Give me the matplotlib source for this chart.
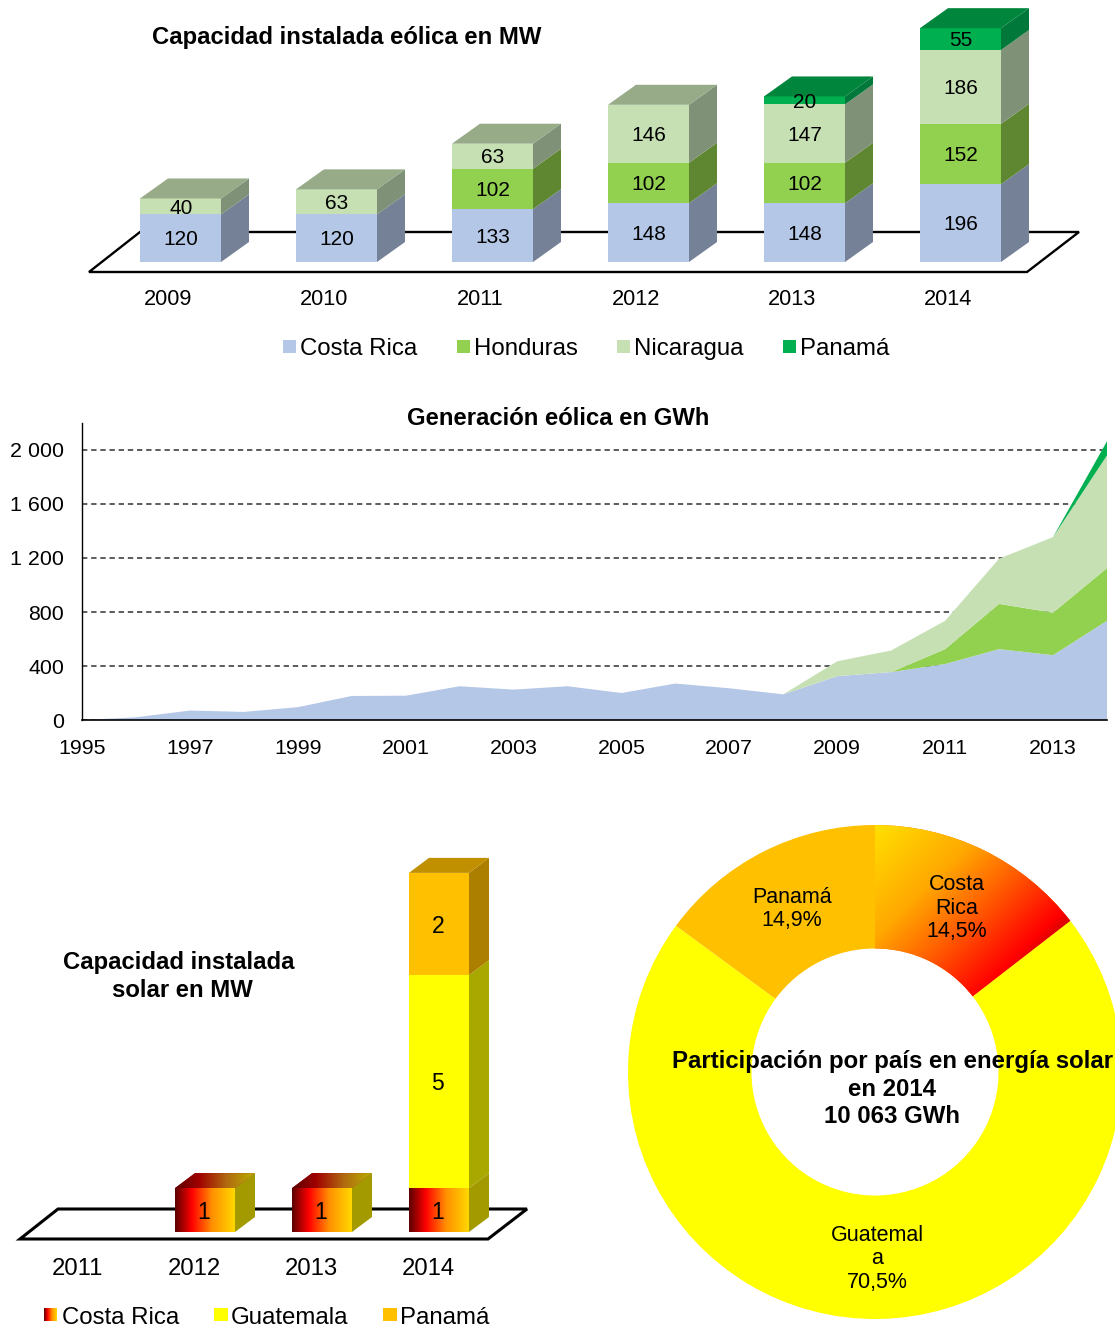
#-*- coding:utf-8 -*-

import numpy as np
import matplotlib
matplotlib.use('Agg')
import matplotlib.pyplot as plt
from matplotlib.colors import LinearSegmentedColormap, to_rgb
from matplotlib.patches import Polygon, Rectangle

W, H = 1115, 1330

# capacidad eolica MW
wind_years = ['2009', '2010', '2011', '2012', '2013', '2014']
wind_costa_rica = [120, 120, 133, 148, 148, 196]
wind_honduras = [0, 0, 102, 102, 102, 152]
wind_nicaragua = [40, 63, 63, 146, 147, 186]
wind_panama = [0, 0, 0, 0, 20, 55]

# generacion eolica GWh
gen_years = list(range(1995, 2015))
gen_costa_rica = [0, 20, 70, 60, 95, 178, 180, 250, 225, 250, 200, 270, 235, 190, 325, 355, 415, 525, 480, 735]
gen_honduras = [0, 0, 0, 0, 0, 0, 0, 0, 0, 0, 0, 0, 0, 0, 0, 0, 110, 335, 315, 390]
gen_nicaragua = [0, 0, 0, 0, 0, 0, 0, 0, 0, 0, 0, 0, 0, 0, 110, 160, 210, 335, 560, 835]
gen_panama = [0, 0, 0, 0, 0, 0, 0, 0, 0, 0, 0, 0, 0, 0, 0, 0, 0, 0, 0, 105]

# capacidad solar MW
solar_years = ['2011', '2012', '2013', '2014']
solar_costa_rica = [0, 1.03, 1.03, 1.03]
solar_guatemala = [0, 0, 0, 5]
solar_panama = [0, 0, 0, 2.4]

# participacion solar 2014
share_names = ['Costa\nRica', 'Guatemal\na', 'Panamá']
share_values = [14.5, 70.5, 14.9]

plt.rcParams['font.family'] = ['Liberation Sans', 'DejaVu Sans']

fig = plt.figure(figsize=(W / 100, H / 100), dpi=100)


def px_axes(x0, y0, x1, y1):
    ax = fig.add_axes([x0 / W, 1 - y1 / H, (x1 - x0) / W, (y1 - y0) / H])
    ax.patch.set_alpha(0)
    return ax


def box_faces(ax, x, bottom, height, width, dx, dy, side, top=None):
    r = x + width / 2
    ax.add_patch(Polygon([(r, bottom), (r + dx, bottom + dy), (r + dx, bottom + height + dy), (r, bottom + height)],
                         facecolor=side, edgecolor='none', zorder=3))
    if top is not None:
        l = x - width / 2
        y = bottom + height
        ax.add_patch(Polygon([(l, y), (l + dx, y + dy), (r + dx, y + dy), (r, y)],
                             facecolor=top, edgecolor='none', zorder=3))


def draw_floor(ax, pts, lw):
    ax.add_patch(Polygon(pts, closed=True, fill=False, edgecolor='black', linewidth=lw, joinstyle='miter', zorder=1))


def share_label(i):
    return '%s\n%s%%' % (share_names[i], str(share_values[i]).replace('.', ','))


# ---- barras eolicas ----
ax1 = px_axes(0, 0, W, 300)
sx, sy = 156.0, 0.397
ax1.set_xlim(-180.5 / sx, (W - 180.5) / sx)
ax1.set_ylim(-38 / sy, 262 / sy)
ax1.axis('off')
dx1, dy1 = 28 / sx, 20 / sy
bw1 = 81 / sx
draw_floor(ax1, [(-91.5 / sx, -10 / sy), (846.5 / sx, -10 / sy), (898.5 / sx, 30 / sy), (-40.5 / sx, 30 / sy)], 1.7)

wind_series = [wind_costa_rica, wind_honduras, wind_nicaragua, wind_panama]
wind_front = ['#B4C7E7', '#92D050', '#C6E0B4', '#00B050']
wind_side = ['#748197', '#5F8732', '#7F9278', '#00783A']
wind_top = ['#748197', '#5F8732', '#97AB89', '#00853C']

for i in range(len(wind_years)):
    bottom = 0
    last = max(k for k in range(4) if wind_series[k][i] > 0)
    for k in range(4):
        v = wind_series[k][i]
        if v == 0:
            continue
        ax1.bar(i, v, bw1, bottom=bottom, color=wind_front[k], zorder=3)
        box_faces(ax1, i, bottom, v, bw1, dx1, dy1, wind_side[k], wind_top[k] if k == last else None)
        ax1.text(i + 0.5 / sx, bottom + v / 2 - 1.8 / sy, str(v), ha='center', va='center', fontsize=15, zorder=5)
        bottom += v
    ax1.text(i - 12.5 / sx, -37.3 / sy, wind_years[i], ha='center', va='center', fontsize=15.7, zorder=5, clip_on=False)

# ---- area generacion ----
ax2 = px_axes(82, 423, 1107, 720)
ax2.stackplot(gen_years, gen_costa_rica, gen_honduras, gen_nicaragua, gen_panama,
              colors=wind_front, linewidth=0, zorder=3)
ax2.set_xlim(1995, 2014)
ax2.set_ylim(0, 2200)
ax2.set_yticks([0, 400, 800, 1200, 1600, 2000])
ax2.set_yticklabels(['0', '400', '800', '1 200', '1 600', '2 000'], fontsize=15.4)
ax2.set_xticks(list(range(1995, 2014, 2)))
ax2.tick_params(length=0, pad=13, axis='y')
ax2.tick_params(length=0, pad=14, axis='x', labelsize=15.4)
ax2.set_axisbelow(True)
ax2.grid(axis='y', color='#303030', linestyle=(0, (3.5, 2.5)), linewidth=1.1)
ax2.spines['top'].set_visible(False)
ax2.spines['right'].set_visible(False)
ax2.spines['left'].set_linewidth(1.0)
ax2.spines['bottom'].set_linewidth(1.2)
ax2.spines['bottom'].set_zorder(6)

# ---- barras solares ----
front_cmap = LinearSegmentedColormap.from_list('frente', [(0, '#5A0000'), (0.28, '#FF0000'), (0.62, '#FF9000'), (1, '#FFD800')])
top_cmap = LinearSegmentedColormap.from_list('tapa', [(0, '#5A0000'), (0.3, '#A00000'), (0.65, '#B06A10'), (1, '#B8B000')])
ramp = np.linspace(0, 1, 256).reshape(1, -1)

ax3 = px_axes(0, 850, 540, 1250)
sx3, sy3 = 117.0, 42.6
ax3.set_xlim(-88 / sx3, (540 - 88) / sx3)
ax3.set_ylim(-18 / sy3, 382 / sy3)
ax3.autoscale(False)
ax3.axis('off')
dx3, dy3 = 20 / sx3, 15 / sy3
bw3 = 60 / sx3
draw_floor(ax3, [(-68 / sx3, -7 / sy3), (400 / sx3, -7 / sy3), (439 / sx3, 23 / sy3), (-30 / sx3, 23 / sy3)], 2.2)
lab_x = -1.2 / sx3
lab_y = -2 / sy3

for i in range(len(solar_years)):
    bottom = 0
    cr, gu, pa = solar_costa_rica[i], solar_guatemala[i], solar_panama[i]
    if cr > 0:
        bar = ax3.bar(i, cr, bw3, color='#FF9000', zorder=3)[0]
        im = ax3.imshow(ramp, cmap=front_cmap, extent=(i - bw3 / 2, i + bw3 / 2, 0, cr), aspect='auto', zorder=4)
        im.set_clip_path(bar)
        box_faces(ax3, i, 0, cr, bw3, dx3, dy3, '#A39A00')
        ax3.text(i + lab_x, cr / 2 + lab_y, '%.0f' % cr, ha='center', va='center', fontsize=16.5, zorder=6)
        bottom = cr
        if gu == 0 and pa == 0:
            lid = Polygon([(i - bw3 / 2, cr), (i - bw3 / 2 + dx3, cr + dy3), (i + bw3 / 2 + dx3, cr + dy3), (i + bw3 / 2, cr)],
                          facecolor='#A00000', edgecolor='none', zorder=3)
            ax3.add_patch(lid)
            im = ax3.imshow(ramp, cmap=top_cmap, extent=(i - bw3 / 2, i + bw3 / 2 + dx3, cr, cr + dy3), aspect='auto', zorder=4)
            im.set_clip_path(lid)
    if gu > 0:
        ax3.bar(i, gu, bw3, bottom=bottom, color='#FFFF00', zorder=3)
        box_faces(ax3, i, bottom, gu, bw3, dx3, dy3, '#A8A800')
        ax3.text(i + lab_x, bottom + gu / 2 + lab_y, '%.0f' % gu, ha='center', va='center', fontsize=16.5, zorder=6)
        bottom += gu
    if pa > 0:
        ax3.bar(i, pa, bw3, bottom=bottom, color='#FFC000', zorder=3)
        box_faces(ax3, i, bottom, pa, bw3, dx3, dy3, '#AD7F00', '#C09000')
        ax3.text(i + lab_x, bottom + pa / 2 + lab_y, '%.0f' % pa, ha='center', va='center', fontsize=16.5, zorder=6)
        bottom += pa
    ax3.text(i - 10.5 / sx3, -36.6 / sy3, solar_years[i], ha='center', va='center', fontsize=17.2, zorder=5, clip_on=False)

# ---- dona ----
R = 247.0
pad = 1.02
ax4 = px_axes(875 - R * pad, 1072 - R * pad, 875 + R * pad, 1072 + R * pad)
wedges, _ = ax4.pie(share_values, colors=['#FF7000', '#FFFF00', '#FFC000'], startangle=90, counterclock=False,
                    radius=1, wedgeprops={'width': 0.5, 'linewidth': 0})
ax4.set_xlim(-pad, pad)
ax4.set_ylim(-pad, pad)
ax4.autoscale(False)

# degradado diagonal de Costa Rica
gx = np.linspace(0, 1, 300)
gy = np.linspace(1, 0, 300)
xx, yy = np.meshgrid(gx, gy)
t = (xx * R * 0.70 + (1 - yy) * R * 0.71)
stops_t = [0, 80, 130, 192, 207, 240, 400]
stops_c = np.array([to_rgb(c) for c in ['#FFE000', '#FFA800', '#FF6000', '#FF0000', '#D00000', '#900000', '#900000']])
grad = np.dstack([np.interp(t, stops_t, stops_c[:, j]) for j in range(3)])
im = ax4.imshow(grad, extent=(0, 1, 0, 1), aspect='equal', zorder=3)
im.set_clip_path(wedges[0])

ax4.text(82 / R, 164 / R, share_label(0), ha='center', va='center', fontsize=15.5, linespacing=1.18, zorder=5)
ax4.text(2 / R, -187 / R, share_label(1), ha='center', va='center', fontsize=15.5, linespacing=1.18, zorder=5)
ax4.text(-83 / R, 163 / R, share_label(2), ha='center', va='center', fontsize=15.5, linespacing=1.18, zorder=5)

# ---- titulos y leyendas en pixeles ----
ov = fig.add_axes([0, 0, 1, 1], zorder=10)
ov.patch.set_alpha(0)
ov.set_xlim(0, W)
ov.set_ylim(H, 0)
ov.axis('off')

ov.text(346.5, 37.7, 'Capacidad instalada eólica en MW', ha='center', va='center', fontsize=17.2, fontweight='bold')
ov.text(558.5, 418.7, 'Generación eólica en GWh', ha='center', va='center', fontsize=17.2, fontweight='bold')
ov.text(178.5, 962.5, 'Capacidad instalada', ha='center', va='center', fontsize=17.2, fontweight='bold')
ov.text(182, 990.5, 'solar en MW', ha='center', va='center', fontsize=17.2, fontweight='bold')
ov.text(892.5, 1061.7, 'Participación por país en energía solar', ha='center', va='center', fontsize=17.3, fontweight='bold')
ov.text(892.5, 1089, 'en 2014', ha='center', va='center', fontsize=17.3, fontweight='bold')
ov.text(892.5, 1116.7, '10 063 GWh', ha='center', va='center', fontsize=17.3, fontweight='bold')

for name, col, sw in zip(['Costa Rica', 'Honduras', 'Nicaragua', 'Panamá'], wind_front, [283, 457, 617, 783]):
    ov.add_patch(Rectangle((sw, 340), 13, 13, facecolor=col, edgecolor='none'))
    ov.text(sw + 17.3, 349, name, ha='left', va='center', fontsize=17.3)

for name, col, sw in zip(['Guatemala', 'Panamá'], ['#FFFF00', '#FFC000'], [214, 383]):
    ov.add_patch(Rectangle((sw, 1308), 14, 13, facecolor=col, edgecolor='none'))
    ov.text(sw + 17, 1318, name, ha='left', va='center', fontsize=17.3)
ov.imshow(ramp, cmap=front_cmap, extent=(44, 57, 1321, 1308), aspect='auto')
ov.set_xlim(0, W)
ov.set_ylim(H, 0)
ov.text(62, 1318, 'Costa Rica', ha='left', va='center', fontsize=17.3)

fig.savefig('out.png', dpi=100)
